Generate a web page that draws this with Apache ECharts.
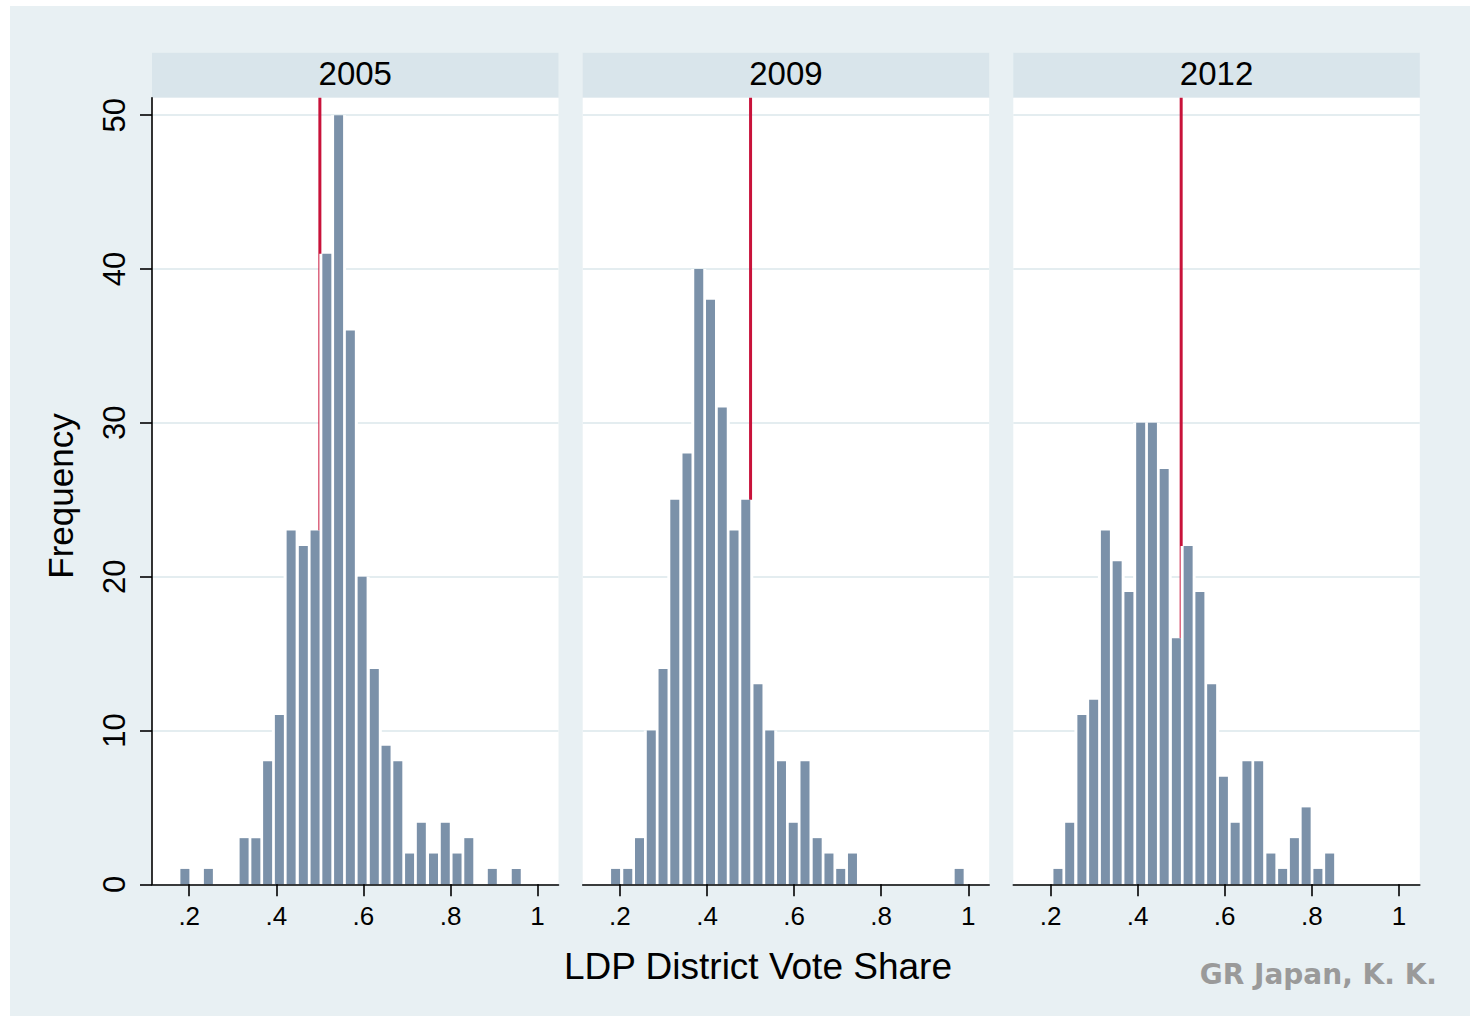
<!DOCTYPE html>
<html><head><meta charset="utf-8">
<script src="https://cdn.jsdelivr.net/npm/echarts@6/dist/echarts.min.js"></script>
<style>html,body{margin:0;padding:0;background:#fff}#c{width:1474px;height:1016px}</style>
</head><body><div id="c"></div>
<script>
// ---- data ----
const panelYears = ['2005', '2009', '2012'];
const binCenters2005 = [0.190, 0.244, 0.326, 0.353, 0.380, 0.407, 0.434, 0.462, 0.489, 0.516, 0.543, 0.570, 0.597, 0.625, 0.652, 0.679, 0.706, 0.733, 0.761, 0.788, 0.815, 0.842, 0.896, 0.951];
const counts2005 =     [1, 1, 3, 3, 8, 11, 23, 22, 23, 41, 50, 36, 20, 14, 9, 8, 2, 4, 2, 4, 2, 3, 1, 1];
const binCenters2009 = [0.190, 0.218, 0.245, 0.272, 0.299, 0.326, 0.354, 0.381, 0.408, 0.435, 0.462, 0.489, 0.517, 0.544, 0.571, 0.598, 0.625, 0.653, 0.680, 0.707, 0.734, 0.979];
const counts2009 =     [1, 1, 3, 10, 14, 25, 28, 40, 38, 31, 23, 25, 13, 10, 8, 4, 8, 3, 2, 1, 2, 1];
const binCenters2012 = [0.217, 0.244, 0.272, 0.299, 0.326, 0.353, 0.380, 0.407, 0.434, 0.461, 0.489, 0.516, 0.543, 0.570, 0.597, 0.624, 0.651, 0.678, 0.706, 0.733, 0.760, 0.787, 0.814, 0.841];
const counts2012 =     [1, 4, 11, 12, 23, 21, 19, 30, 30, 27, 16, 22, 19, 13, 7, 4, 8, 8, 2, 1, 3, 5, 1, 2];
const majorityLine = 0.5;
const xTickValues = [0.2, 0.4, 0.6, 0.8, 1];
const xTickLabels = ['.2', '.4', '.6', '.8', '1'];
const yTickValues = [0, 10, 20, 30, 40, 50];
const xTitle = 'LDP District Vote Share';
const yTitle = 'Frequency';
const credit = 'GR Japan, K. K.';

// ---- layout / style ----
const FONT = '"Liberation Sans", Arial, Helvetica, sans-serif';
const panelLefts = [152, 582.7, 1013.3];
const panelW = 406.5, plotTop = 97.7, plotH = 786.6;
const X_MIN = 0.1145, X_MAX = 1.048, Y_MAX = 51.14;
const BAR_FILL_W = 9, BAR_HALO_W = 15;

const centersList = [binCenters2005, binCenters2009, binCenters2012];
const countsList = [counts2005, counts2009, counts2012];

const grids = [], xAxes = [], yAxes = [], series = [];
const fmtX = v => { let k = 0; xTickValues.forEach((t, j) => { if (Math.abs(t - v) < Math.abs(xTickValues[k] - v)) k = j; }); return xTickLabels[k]; };

panelLefts.forEach((left, i) => {
  grids.push({ left: left, top: plotTop, width: panelW, height: plotH, show: true, backgroundColor: '#ffffff', borderWidth: 0, containLabel: false });
  // visible axes
  xAxes.push({
    gridIndex: i, type: 'value', min: X_MIN, max: X_MAX, z: 10,
    axisLine: { show: true, onZero: false, lineStyle: { color: '#000', width: 1.6 } },
    axisTick: { show: true, length: 12, customValues: xTickValues, lineStyle: { color: '#000', width: 1.6 } },
    axisLabel: { show: true, customValues: xTickValues, margin: 19, fontSize: 26, fontFamily: FONT, color: '#000', formatter: fmtX },
    splitLine: { show: false }
  });
  yAxes.push({
    gridIndex: i, type: 'value', min: 0, max: Y_MAX, interval: 10,
    name: i === 0 ? yTitle : '', nameLocation: 'middle', nameGap: 74, nameRotate: 90,
    nameTextStyle: { fontSize: 35, fontFamily: FONT, color: '#000', padding: [0, 10, 0, 0] },
    axisLine: { show: i === 0, lineStyle: { color: '#000', width: 1.6 } },
    axisTick: { show: i === 0, length: 12, customValues: yTickValues, lineStyle: { color: '#000', width: 1.6 } },
    axisLabel: { show: i === 0, customValues: yTickValues, rotate: 90, margin: 22, fontSize: 31, fontFamily: FONT, color: '#000' },
    splitLine: { show: true, lineStyle: { color: '#e4edf0', width: 2 } }
  });
  // hidden twin axes (same scale) for the white halo behind each bar
  xAxes.push({ gridIndex: i, type: 'value', min: X_MIN, max: X_MAX, show: false, splitLine: { show: false } });
  yAxes.push({ gridIndex: i, type: 'value', min: 0, max: Y_MAX, interval: 10, show: false, splitLine: { show: false } });

  const data = centersList[i].map((c, k) => [c, countsList[i][k]]);
  series.push({
    type: 'line', xAxisIndex: 2 * i, yAxisIndex: 2 * i, z: 1, symbol: 'none', silent: true,
    data: [[majorityLine, 0], [majorityLine, Y_MAX]],
    lineStyle: { color: '#c8123a', width: 3 }
  });
  series.push({
    type: 'bar', xAxisIndex: 2 * i + 1, yAxisIndex: 2 * i + 1, z: 2, silent: true,
    barWidth: BAR_HALO_W, data: data, itemStyle: { color: '#ffffff' }
  });
  series.push({
    type: 'bar', xAxisIndex: 2 * i, yAxisIndex: 2 * i, z: 3, silent: true,
    barWidth: BAR_FILL_W, data: data, itemStyle: { color: '#7b91a9' }
  });
});

const graphics = [
  { type: 'rect', z: -100, shape: { x: 10, y: 6, width: 1460, height: 1010 }, style: { fill: '#e8f0f3' } }
];
panelLefts.forEach((left, i) => {
  graphics.push({ type: 'rect', z: -50, shape: { x: left, y: 52.7, width: panelW, height: 45 }, style: { fill: '#d9e5eb' } });
  graphics.push({ type: 'text', z: 50, x: left + panelW / 2, y: 73,
    style: { text: panelYears[i], fontSize: 33, fontFamily: FONT, fill: '#000', textAlign: 'center', textVerticalAlign: 'middle', align: 'center', verticalAlign: 'middle' } });
});
graphics.push({ type: 'text', z: 50, x: 758, y: 966,
  style: { text: xTitle, fontSize: 37, fontFamily: FONT, fill: '#000', textAlign: 'center', textVerticalAlign: 'middle', align: 'center', verticalAlign: 'middle' } });
graphics.push({ type: 'text', z: 50, x: 1437, y: 974,
  style: { text: credit, fontSize: 28, fontWeight: 'bold', fontFamily: '"DejaVu Sans", sans-serif', fill: '#9a9a9a', textAlign: 'right', textVerticalAlign: 'middle', align: 'right', verticalAlign: 'middle' } });

const chart = echarts.init(document.getElementById('c'), null, { renderer: 'svg' });
chart.setOption({
  backgroundColor: '#ffffff',
  animation: false,
  grid: grids, xAxis: xAxes, yAxis: yAxes, series: series,
  graphic: { elements: graphics }
});
</script>
</body></html>
